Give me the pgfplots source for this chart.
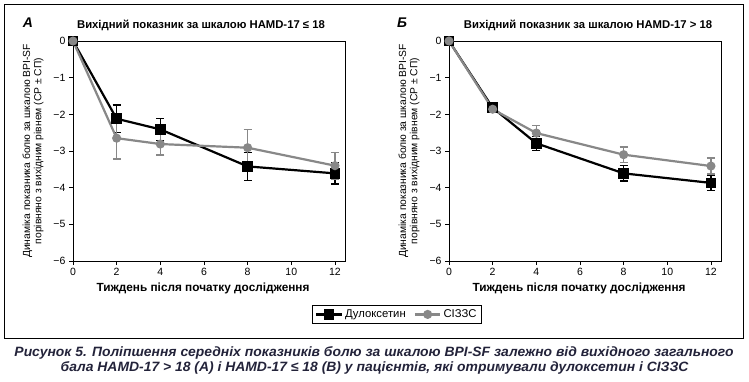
\documentclass[border=0pt]{standalone}
\usepackage{fontspec}
\setmainfont{Liberation Sans}
\newfontfamily\capfont[FakeStretch=1.03]{Liberation Sans}
\usepackage{pgfplots}
\usepackage{pgfplotstable}
\pgfplotsset{compat=1.18}
\definecolor{ssricol}{RGB}{136,136,136}
\definecolor{capcol}{RGB}{35,35,58}

\pgfplotstableread{
x y e
0 0 0
2 -2.12 0.38
4 -2.41 0.30
8 -3.42 0.38
12 -3.61 0.29
}\dulA
\pgfplotstableread{
x y e
0 0 0
2 -2.65 0.57
4 -2.81 0.30
8 -2.91 0.49
12 -3.40 0.36
}\ssriA
\pgfplotstableread{
x y e
0 0 0
2 -1.82 0.10
4 -2.79 0.19
8 -3.61 0.21
12 -3.87 0.20
}\dulB
\pgfplotstableread{
x y e
0 0 0
2 -1.86 0.08
4 -2.51 0.21
8 -3.10 0.21
12 -3.41 0.22
}\ssriB

\pgfplotsset{
  myax/.style={
    scale only axis, width=272pt, height=220pt,
    anchor=south west,
    xmin=0, xmax=12.46, ymin=-6, ymax=0,
    xtick={0,2,4,6,8,10,12},
    xticklabels={0,2,4,6,8,10,12},
    ytick={-6,-5,-4,-3,-2,-1,0},
    yticklabels={−6,−5,−4,−3,−2,−1,0},
    tick align=outside, xtick pos=bottom, ytick pos=left,
    major tick length=4pt,
    tick style={black, line width=0.8pt},
    axis line style={line width=0.8pt},
    tick label style={font=\fontsize{10.5}{12}\selectfont},
    clip=false,
  },
  dulplot/.style={black, line width=2.2pt, mark=square*, mark size=4.2pt,
    mark options={solid, fill=black},
    error bars/.cd, y dir=both, y explicit,
    error bar style={line width=1.4pt, black},
    error mark options={rotate=90, mark size=4pt, line width=1.4pt, black}},
  ssriplot/.style={color=ssricol, line width=2.2pt, mark=*, mark size=3.4pt,
    mark options={solid, fill=ssricol},
    error bars/.cd, y dir=both, y explicit,
    error bar style={line width=1.4pt, ssricol},
    error mark options={rotate=90, mark size=4pt, line width=1.4pt, ssricol}},
}

\begin{document}
\begin{tikzpicture}
\useasboundingbox (0pt,0pt) rectangle (749pt,-381pt);
\fill[white] (0pt,0pt) rectangle (749pt,-381pt);
\draw[line width=0.9pt] (4pt,-4pt) rectangle (743pt,-338pt);

\begin{axis}[myax, at={(73pt,-261pt)},
  legend columns=2,
  legend style={at={(0.879,-0.20)}, anchor=north west, draw=black,
    font=\fontsize{11.3}{12.5}\selectfont, inner xsep=3pt, inner ysep=2.5pt,
    /tikz/every even column/.append style={column sep=6pt}},
  legend image code/.code={\draw[mark repeat=2,mark phase=2] plot coordinates {(0cm,0cm) (0.45cm,0cm) (0.9cm,0cm)};},
  ]
\addplot[dulplot] table[x=x, y=y, y error=e] {\dulA};
\addlegendentry{Дулоксетин}
\addplot[ssriplot] table[x=x, y=y, y error=e] {\ssriA};
\addlegendentry{СІЗЗС}
\end{axis}

\begin{axis}[myax, at={(449pt,-261pt)}]
\addplot[dulplot] table[x=x, y=y, y error=e] {\dulB};
\addplot[ssriplot] table[x=x, y=y, y error=e] {\ssriB};
\end{axis}

% panel letters and titles
\node[font=\bfseries\itshape\fontsize{14}{16}\selectfont] at (28pt,-23pt) {А};
\node[font=\bfseries\itshape\fontsize{14}{16}\selectfont] at (402pt,-23pt) {Б};
\node[font=\bfseries\fontsize{11.3}{13}\selectfont] at (201pt,-25pt) {Вихідний показник за шкалою HAMD-17 ≤ 18};
\node[font=\bfseries\fontsize{11.3}{13}\selectfont] at (588pt,-25pt) {Вихідний показник за шкалою HAMD-17 > 18};

% y labels
\foreach \xx in {33,409}{
\node[rotate=90, align=center, font=\fontsize{10.3}{11.3}\selectfont] at (\xx pt,-151pt)
  {Динаміка показника болю за шкалою BPI-SF\\порівняно з вихідним рівнем (СР ± СП)};
}
% x labels
\node[font=\bfseries\fontsize{11.8}{13}\selectfont] at (203pt,-288pt) {Тиждень після початку дослідження};
\node[font=\bfseries\fontsize{11.8}{13}\selectfont] at (579pt,-288pt) {Тиждень після початку дослідження};

% caption
\node[font=\capfont\bfseries\itshape\fontsize{13.5}{15}\selectfont, text=capcol] at (374pt,-353pt)
  {Рисунок 5. Поліпшення середніх показників болю за шкалою BPI-SF залежно від вихідного загального};
\node[font=\capfont\bfseries\itshape\fontsize{13.5}{15}\selectfont, text=capcol] at (374.5pt,-368pt)
  {бала HAMD-17 > 18 (А) і HAMD-17 ≤ 18 (В) у пацієнтів, які отримували дулоксетин і СІЗЗС};
\end{tikzpicture}
\end{document}
